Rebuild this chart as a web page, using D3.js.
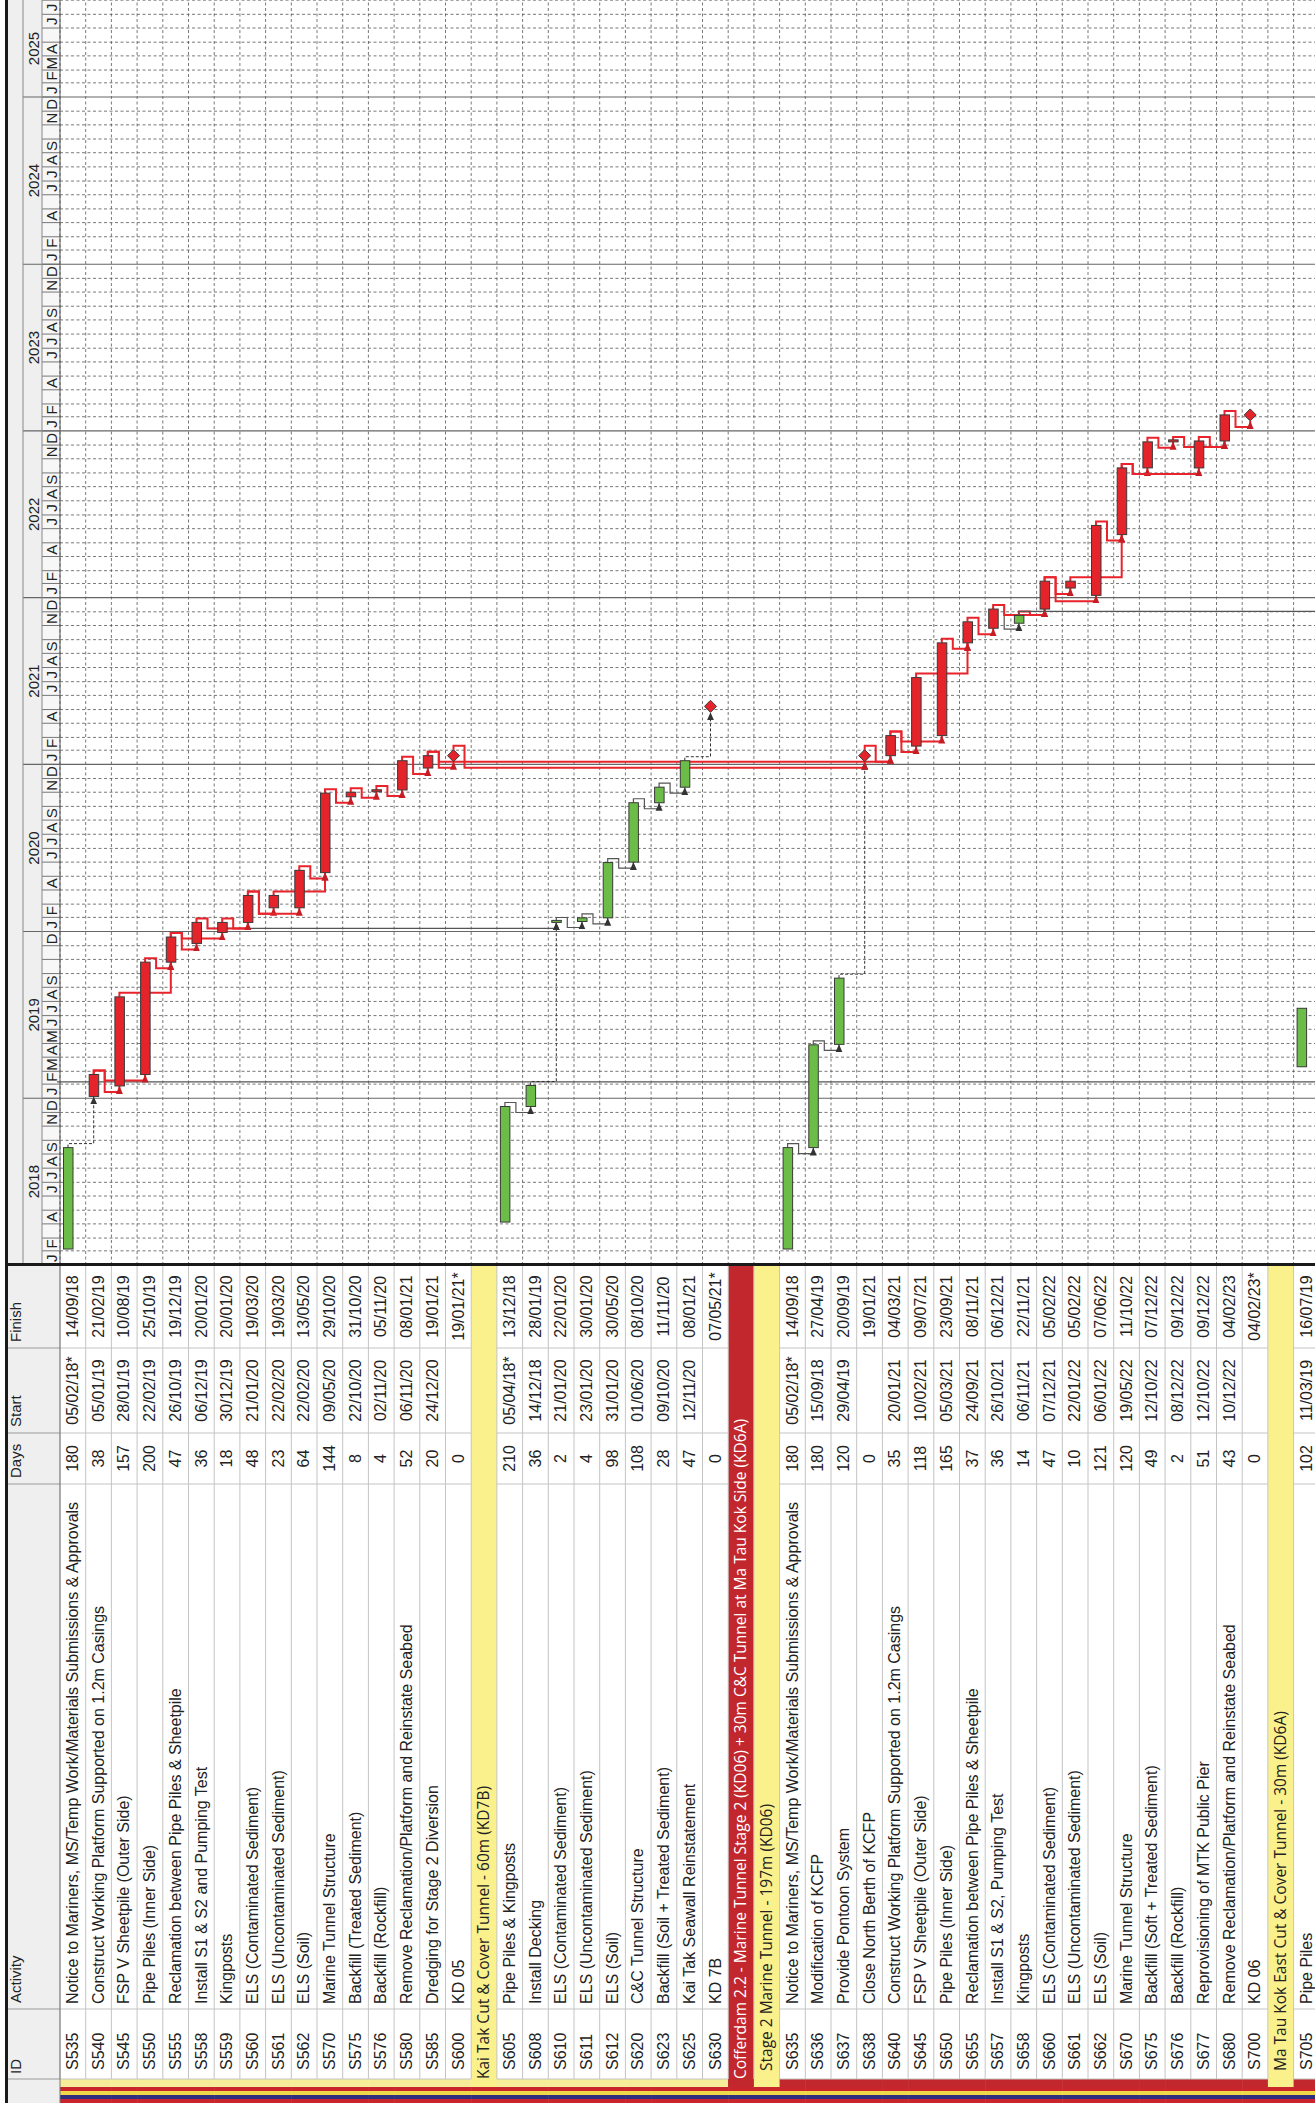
<!DOCTYPE html>
<html>
<head>
<meta charset="utf-8">
<script src="https://cdn.jsdelivr.net/npm/d3@7"></script>
<style>
  body { margin: 0; background: #fff; }
  text { font-family: "Liberation Sans", Arial, sans-serif; fill: #222; }
  .cell { font-size: 16px; }
  .hdr { font-size: 15px; }
  .sum { font-family: "Open Sans", "Liberation Sans", sans-serif; font-size: 15.5px; }
</style>
</head>
<body>
<svg id="chart" width="1315" height="2103"></svg>
<script>
var rowIds = ["S535","S540","S545","S550","S555","S558","S559","S560","S561","S562","S570","S575","S576","S580","S585","S600",
  "","S605","S608","S610","S611","S612","S620","S623","S625","S630",
  "","","S635","S636","S637","S638","S640","S645","S650","S655","S657","S658","S660","S661","S662","S670","S675","S676","S677","S680","S700",
  "","S705"];

var rowNames = [
  "Notice to Mariners, MS/Temp Work/Materials Submissions & Approvals",
  "Construct Working Platform Supported on 1.2m Casings",
  "FSP V Sheetpile (Outer Side)",
  "Pipe Piles (Inner Side)",
  "Reclamation between Pipe Piles & Sheetpile",
  "Install S1 & S2 and Pumping Test",
  "Kingposts",
  "ELS (Contaminated Sediment)",
  "ELS (Uncontaminated Sediment)",
  "ELS (Soil)",
  "Marine Tunnel Structure",
  "Backfill (Treated Sediment)",
  "Backfill (Rockfill)",
  "Remove Reclamation/Platform and Reinstate Seabed",
  "Dredging for Stage 2 Diversion",
  "KD 05",
  "Kai Tak Cut & Cover Tunnel - 60m (KD7B)",
  "Pipe Piles & Kingposts",
  "Install Decking",
  "ELS (Contaminated Sediment)",
  "ELS (Uncontaminated Sediment)",
  "ELS (Soil)",
  "C&C Tunnel Structure",
  "Backfill (Soil + Treated Sediment)",
  "Kai Tak Seawall Reinstatement",
  "KD 7B",
  "Cofferdam 2.2 - Marine Tunnel Stage 2 (KD06) + 30m C&C Tunnel at Ma Tau Kok Side (KD6A)",
  "Stage 2 Marine Tunnel - 197m (KD06)",
  "Notice to Mariners, MS/Temp Work/Materials Submissions & Approvals",
  "Modification of KCFP",
  "Provide Pontoon System",
  "Close North Berth of KCFP",
  "Construct Working Platform Supported on 1.2m Casings",
  "FSP V Sheetpile (Outer Side)",
  "Pipe Piles (Inner Side)",
  "Reclamation between Pipe Piles & Sheetpile",
  "Install S1 & S2, Pumping Test",
  "Kingposts",
  "ELS (Contaminated Sediment)",
  "ELS (Uncontaminated Sediment)",
  "ELS (Soil)",
  "Marine Tunnel Structure",
  "Backfill (Soft + Treated Sediment)",
  "Backfill (Rockfill)",
  "Reprovisioning of MTK Public Pier",
  "Remove Reclamation/Platform and Reinstate Seabed",
  "KD 06",
  "Ma Tau Kok East Cut & Cover Tunnel - 30m (KD6A)",
  "Pipe Piles"
];

var rowDays = ["180","38","157","200","47","36","18","48","23","64","144","8","4","52","20","0",
  "","210","36","2","4","98","108","28","47","0",
  "","","180","180","120","0","35","118","165","37","36","14","47","10","121","120","49","2","51","43","0",
  "","102"];

var rowStarts = ["05/02/18*","05/01/19","28/01/19","22/02/19","26/10/19","06/12/19","30/12/19","21/01/20","22/02/20","22/02/20","09/05/20","22/10/20","02/11/20","06/11/20","24/12/20","",
  "","05/04/18*","14/12/18","21/01/20","23/01/20","31/01/20","01/06/20","09/10/20","12/11/20","",
  "","","05/02/18*","15/09/18","29/04/19","","20/01/21","10/02/21","05/03/21","24/09/21","26/10/21","06/11/21","07/12/21","22/01/22","06/01/22","19/05/22","12/10/22","08/12/22","12/10/22","10/12/22","",
  "","11/03/19"];

var rowFinishes = ["14/09/18","21/02/19","10/08/19","25/10/19","19/12/19","20/01/20","20/01/20","19/03/20","19/03/20","13/05/20","29/10/20","31/10/20","05/11/20","08/01/21","19/01/21","19/01/21*",
  "","13/12/18","28/01/19","22/01/20","30/01/20","30/05/20","08/10/20","11/11/20","08/01/21","07/05/21*",
  "","","14/09/18","27/04/19","20/09/19","19/01/21","04/03/21","09/07/21","23/09/21","08/11/21","06/12/21","22/11/21","05/02/22","05/02/22","07/06/22","11/10/22","07/12/22","09/12/22","09/12/22","04/02/23","04/02/23*",
  "","16/07/19"];

// g = green bar, r = red (critical) bar, m = milestone, s = summary band, h = group heading
var rowKinds = ["g","r","r","r","r","r","r","r","r","r","r","r","r","r","r","m",
  "s","g","g","g","g","g","g","g","g","m",
  "h","s","g","g","g","m","r","r","r","r","r","g","r","r","r","r","r","r","r","r","m",
  "s","g"];

// links: [predecessor, successor]
var redLinks = [["S540","S545"],["S540","S550"],["S545","S555"],["S550","S555"],["S555","S558"],["S555","S559"],
  ["S558","S560"],["S559","S560"],["S560","S561"],["S560","S562"],["S561","S570"],["S562","S570"],["S570","S575"],
  ["S575","S576"],["S576","S580"],["S580","S585"],["S585","S600"],["S600","S638"],["S585","S640"],["S638","S640"],
  ["S640","S645"],["S640","S650"],["S645","S655"],["S650","S655"],["S655","S657"],["S657","S660"],["S658","S660"],
  ["S660","S661"],["S660","S662"],["S661","S670"],["S662","S670"],["S670","S675"],["S670","S677"],["S675","S676"],
  ["S676","S680"],["S677","S680"],["S680","S700"]];
var greyLinks = [["S605","S608"],["S610","S611"],["S611","S612"],["S612","S620"],["S620","S623"],["S623","S625"],
  ["S635","S636"],["S636","S637"],["S558","S610"],["S657","S658"]];
var dashLinks = [["S535","S540"],["S608","S610"],["S625","S630"],["S637","S638"]];
// links whose successor sits below the visible rows
var offLinks = ["S658"];

var years = [2018, 2019, 2020, 2021, 2022, 2023, 2024, 2025];
var monthLabels = {
  2018: ["J","F","","A","","J","J","A","S","","N","D"],
  2019: ["J","F","M","A","M","J","J","A","S","","","D"],
  2020: ["J","F","","A","","J","J","A","S","","N","D"],
  2021: ["J","F","","A","","J","J","A","S","","N","D"],
  2022: ["J","F","","A","","J","J","A","S","","N","D"],
  2023: ["J","F","","A","","J","J","A","S","","N","D"],
  2024: ["J","F","","A","","J","J","A","S","","N","D"],
  2025: ["J","F","M","A","","J","J"]
};
var statusDate = "06/02/19";

// ---- layout (drawn unrotated, then turned a quarter to the left) ----
var W = 2103, H = 1315;
var colId = 24, colAct = 94, colDays = 619, colStart = 670, colFinish = 755, colTime = 838;
var hdrTop = 8, yearTop = 23, monthTop = 42, bodyTop = 60, rowH = 25.7;

var svg = d3.select("#chart");
var g = svg.append("g").attr("transform", "translate(0," + W + ") rotate(-90)");

var parse = d3.timeParse("%d/%m/%y");
function pd(s) { return parse(s.replace("*", "")); }

var x = d3.scaleTime()
    .domain([new Date(2018, 0, 1), new Date(2025, 0, 1)])
    .range([colTime, 2006]);

var y = d3.scaleBand()
    .domain(d3.range(rowIds.length))
    .range([bodyTop, bodyTop + rowH * rowIds.length])
    .paddingInner(0);

var idx = {};
rowIds.forEach(function(d, i) { if (d) idx[d] = i; });

function xs(i) { return x(pd(rowStarts[i])); }
function xe(i) { return x(d3.timeDay.offset(pd(rowFinishes[i]), 1)); }

// header background
g.append("rect").attr("x", 0).attr("y", hdrTop).attr("width", W).attr("height", bodyTop - hdrTop).attr("fill", "#efefef");
g.append("rect").attr("x", colTime).attr("y", monthTop).attr("width", W - colTime).attr("height", bodyTop - monthTop).attr("fill", "#f7f7f7");

// outline stripes at the far left
var stripeA = ["#c8262c", "#2e2f7d", "#efd84a", "#c8262c", "#f6ee98"];
var stripeB = ["#c8262c", "#2e2f7d", "#efd84a", "#c8262c", "#c1272d"];
var stripeW = [4, 4, 4, 4, 8];
rowKinds.forEach(function(k, i) {
  var cols = i >= 26 ? stripeB : stripeA, off = 0;
  cols.forEach(function(c, j) {
    g.append("rect").attr("x", off).attr("y", y(i)).attr("width", stripeW[j]).attr("height", rowH + 0.5).attr("fill", c);
    off += stripeW[j];
  });
});

// summary / group bands in the table
rowKinds.forEach(function(k, i) {
  if (k === "s" || k === "h") {
    g.append("rect")
      .attr("x", colId - 8).attr("y", y(i))
      .attr("width", colTime - colId + 8).attr("height", y.bandwidth())
      .attr("fill", k === "s" ? "#faf08c" : "#c1272d");
  }
});

// table row lines
d3.range(rowIds.length + 1).forEach(function(i) {
  var yy = bodyTop + i * rowH;
  g.append("line").attr("x1", colId).attr("x2", colTime).attr("y1", yy).attr("y2", yy)
    .attr("stroke", "#c4c4c4").attr("stroke-width", 1);
});
// column lines (not through summary / group rows)
[colId, colAct, colDays, colStart, colFinish].forEach(function(cx) {
  g.append("line").attr("x1", cx).attr("x2", cx).attr("y1", hdrTop).attr("y2", bodyTop)
    .attr("stroke", "#9a9a9a");
  rowKinds.forEach(function(k, i) {
    if (k === "s" || k === "h") return;
    g.append("line").attr("x1", cx).attr("x2", cx).attr("y1", y(i)).attr("y2", y(i) + rowH)
      .attr("stroke", "#c4c4c4");
  });
});
g.append("line").attr("x1", 0).attr("x2", colTime).attr("y1", bodyTop).attr("y2", bodyTop).attr("stroke", "#777");

// table header labels
var hdrs = [["ID", colId + 5], ["Activity", colAct + 6], ["Days", colDays + 6], ["Start", colStart + 6], ["Finish", colFinish + 6]];
hdrs.forEach(function(h) {
  g.append("text").attr("class", "hdr").attr("x", h[1]).attr("y", 21).text(h[0]);
});

// table text
var body = g.append("g");
rowIds.forEach(function(id, i) {
  var k = rowKinds[i], base = y(i) + 18;
  if (k === "s" || k === "h") {
    body.append("text").attr("class", "sum")
      .attr("x", (i === 27 || i === 47) ? colId + 8 : colId)
      .attr("y", y(i) + 18)
      .style("fill", k === "h" ? "#fff" : "#222")
      .text(rowNames[i]);
    return;
  }
  body.append("text").attr("class", "cell").attr("x", colId + 9).attr("y", base).text(id);
  body.append("text").attr("class", "cell").attr("x", colAct + 5).attr("y", base).text(rowNames[i]);
  body.append("text").attr("class", "cell").attr("x", (colDays + colStart) / 2).attr("y", base).attr("text-anchor", "middle").text(rowDays[i]);
  body.append("text").attr("class", "cell").attr("x", (colStart + colFinish) / 2).attr("y", base).attr("text-anchor", "middle").text(rowStarts[i]);
  body.append("text").attr("class", "cell").attr("x", (colFinish + colTime) / 2).attr("y", base).attr("text-anchor", "middle").text(rowFinishes[i]);
});

// ---- timeline ----
var tl = g.append("g");
g.append("clipPath").attr("id", "tclip").append("rect")
  .attr("x", colTime).attr("y", 0).attr("width", W - colTime).attr("height", H);
tl.attr("clip-path", "url(#tclip)");

var endDate = x.invert(W);
var months = d3.timeMonth.range(new Date(2018, 0, 1), d3.timeMonth.offset(endDate, 1));

// row grid (dashed)
d3.range(rowIds.length + 1).forEach(function(i) {
  var yy = bodyTop + i * rowH;
  tl.append("line").attr("x1", colTime).attr("x2", W).attr("y1", yy).attr("y2", yy)
    .attr("stroke", "#555").attr("stroke-width", 0.8).attr("stroke-dasharray", "3,2.5");
});
// month grid (dashed) and month header
months.forEach(function(m) {
  var mx = x(m);
  if (m.getMonth() !== 0) {
    tl.append("line").attr("x1", mx).attr("x2", mx).attr("y1", bodyTop).attr("y2", H)
      .attr("stroke", "#555").attr("stroke-width", 0.8).attr("stroke-dasharray", "3,2.5");
  }
  tl.append("line").attr("x1", mx).attr("x2", mx).attr("y1", monthTop).attr("y2", bodyTop)
    .attr("stroke", "#777");
  var lab = (monthLabels[m.getFullYear()] || [])[m.getMonth()];
  if (lab) {
    var mid = x(d3.timeDay.offset(m, 15));
    tl.append("text").attr("class", "hdr").attr("x", mid).attr("y", 57).attr("text-anchor", "middle").text(lab);
  }
});
// year lines and labels
years.forEach(function(yr) {
  var a = x(new Date(yr, 0, 1)), b = Math.min(W, x(new Date(yr + 1, 0, 1)));
  tl.append("line").attr("x1", a).attr("x2", a).attr("y1", yearTop).attr("y2", H)
    .attr("stroke", "#666").attr("stroke-width", 1.1);
  tl.append("text").attr("class", "hdr").attr("x", (a + b) / 2).attr("y", 38.5)
    .attr("text-anchor", "middle").text(yr);
});
tl.append("line").attr("x1", colTime).attr("x2", W).attr("y1", yearTop).attr("y2", yearTop).attr("stroke", "#888");
tl.append("line").attr("x1", colTime).attr("x2", W).attr("y1", monthTop).attr("y2", monthTop).attr("stroke", "#888");
tl.append("line").attr("x1", colTime).attr("x2", W).attr("y1", bodyTop).attr("y2", bodyTop).attr("stroke", "#555");

// status line
var sx = x(pd(statusDate));
tl.append("line").attr("x1", sx).attr("x2", sx).attr("y1", bodyTop - 3).attr("y2", H)
  .attr("stroke", "#555").attr("stroke-width", 1.1);

// arrow markers
var defs = svg.append("defs");
[["arRed", "#c61d24"], ["arGrey", "#333"]].forEach(function(a) {
  defs.append("marker").attr("id", a[0]).attr("viewBox", "0 0 8 8").attr("refX", 8).attr("refY", 4)
    .attr("markerWidth", 8).attr("markerHeight", 8).attr("markerUnits", "userSpaceOnUse").attr("orient", "auto")
    .append("path").attr("d", "M0,0.5L8,4L0,7.5Z").attr("fill", a[1]);
});

function ptEnd(i) { return rowKinds[i] === "m" ? xe(i) + 6 : xe(i); }
function ptStart(i) { return rowKinds[i] === "m" ? xe(i) - 6 : xs(i); }
function linkPath(a, b) {
  var px = ptEnd(a), py = y(a) + 8, qx = ptStart(b), qy = y(b) + 8;
  if (qx - px >= 8) return "M" + px + "," + py + "H" + (px + 4) + "V" + qy + "H" + qx;
  var lane = y(a) + 19;
  return "M" + px + "," + py + "H" + (px + 4) + "V" + lane + "H" + (qx - 6) + "V" + qy + "H" + qx;
}
function drawLinks(list, color, width, dash, marker) {
  list.forEach(function(l) {
    tl.append("path").attr("d", linkPath(idx[l[0]], idx[l[1]]))
      .attr("fill", "none").attr("stroke", color).attr("stroke-width", width)
      .attr("stroke-dasharray", dash).attr("marker-end", "url(#" + marker + ")");
  });
}
drawLinks(dashLinks, "#333", 1, "3,2", "arGrey");
drawLinks(greyLinks, "#555", 1.2, null, "arGrey");
drawLinks(redLinks, "#e8232b", 2, null, "arRed");
offLinks.forEach(function(id) {
  var i = idx[id], px = ptEnd(i);
  tl.append("path").attr("d", "M" + px + "," + (y(i) + 8) + "H" + (px + 4) + "V" + (H + 5))
    .attr("fill", "none").attr("stroke", "#555").attr("stroke-width", 1.2);
});

// bars and milestones
rowKinds.forEach(function(k, i) {
  if (k === "g" || k === "r") {
    tl.append("rect").attr("x", xs(i)).attr("y", y(i) + 3.5)
      .attr("width", Math.max(2, xe(i) - xs(i))).attr("height", 9.5)
      .attr("fill", k === "r" ? "#e5232a" : "#6cbd47")
      .attr("stroke", "#3a3a3a").attr("stroke-width", 1);
  } else if (k === "m") {
    var mx = xe(i), my = y(i) + 8;
    tl.append("path").attr("d", "M" + (mx - 6) + "," + my + "L" + mx + "," + (my - 6) + "L" + (mx + 6) + "," + my + "L" + mx + "," + (my + 6) + "Z")
      .attr("fill", "#e5232a").attr("stroke", "#3a3a3a").attr("stroke-width", 1);
  }
});

// frame lines
g.append("rect").attr("x", 0).attr("y", 5).attr("width", W).attr("height", 3).attr("fill", "#1a1a1a");
g.append("rect").attr("x", colTime - 1).attr("y", 5).attr("width", 3).attr("height", H).attr("fill", "#1a1a1a");
</script>
</body>
</html>
